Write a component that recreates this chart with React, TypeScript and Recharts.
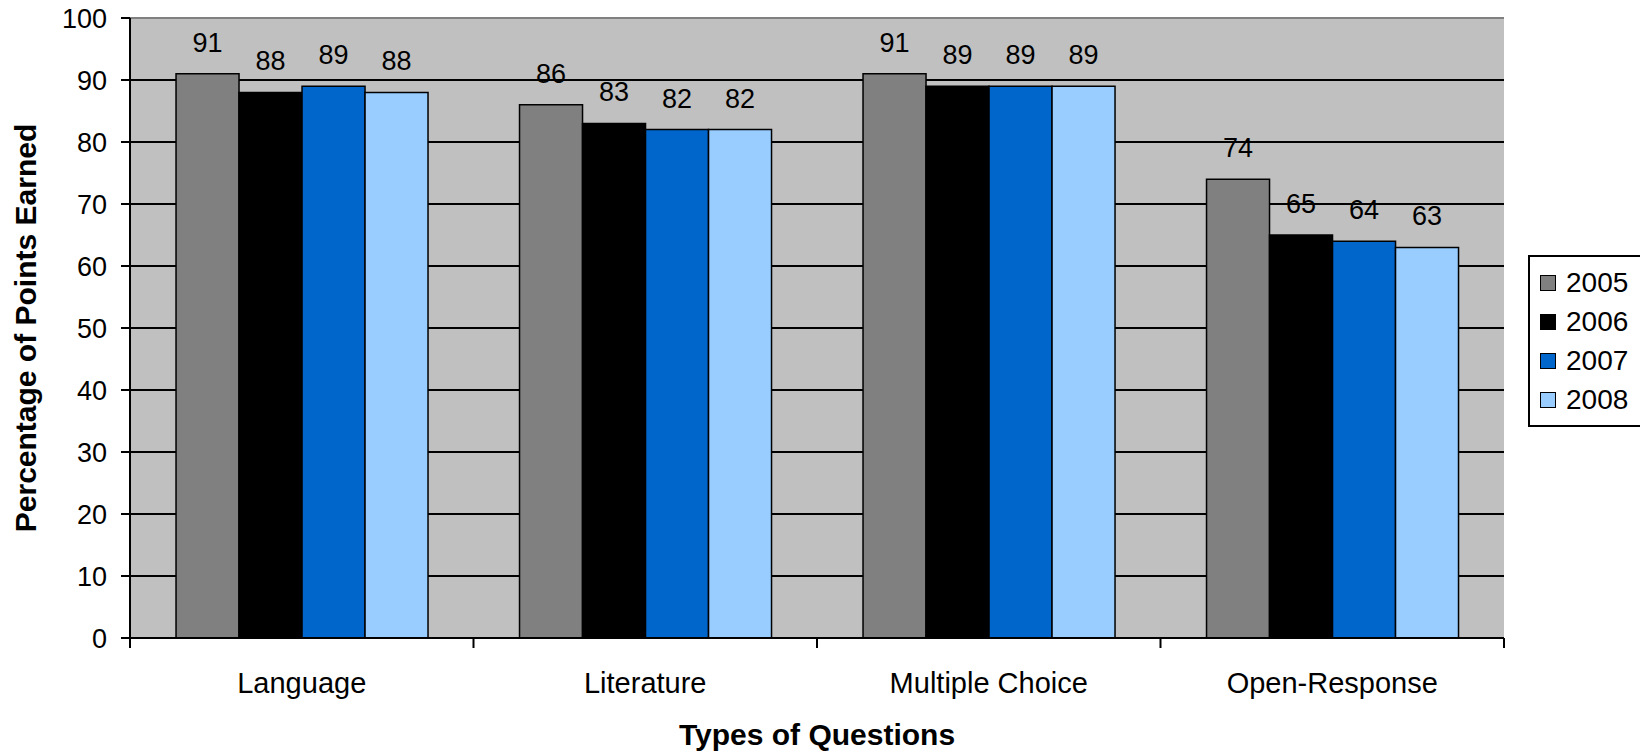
import React from "react"
import {
  BarChart,
  Bar,
  XAxis,
  YAxis,
  CartesianGrid,
  ReferenceLine,
  LabelList,
} from "recharts"

const categories = ["Language", "Literature", "Multiple Choice", "Open-Response"]
const years = ["2005", "2006", "2007", "2008"]
const values2005 = [91, 86, 91, 74]
const values2006 = [88, 83, 89, 65]
const values2007 = [89, 82, 89, 64]
const values2008 = [88, 82, 89, 63]
const yTicks = [0, 10, 20, 30, 40, 50, 60, 70, 80, 90, 100]

const colors = ["#808080", "#000000", "#0066CC", "#99CCFF"]
const font = "'Liberation Sans', Arial, sans-serif"

const seriesValues = [values2005, values2006, values2007, values2008]

const data = categories.map((name, i) => {
  const row: Record<string, number | string> = { name }
  years.forEach((y, j) => {
    row[y] = seriesValues[j][i]
  })
  return row
})

// category name in the middle, tick marks on the band edges (Excel style)
function CategoryTick(props: any) {
  const { x, y, payload, index } = props
  const half = payload?.offset ?? 0
  const last = index === categories.length - 1
  return (
    <g>
      <line x1={x - half} y1={y} x2={x - half} y2={y + 10} stroke="#000" strokeWidth={2} />
      {last && <line x1={x + half} y1={y} x2={x + half} y2={y + 10} stroke="#000" strokeWidth={2} />}
      <text x={x} y={y + 55} textAnchor="middle" fontSize={29} fill="#000" fontFamily={font}>
        {payload.value}
      </text>
    </g>
  )
}

function LegendBox() {
  return (
    <div
      style={{
        position: "absolute",
        left: 1528,
        top: 255,
        width: 106,
        border: "2px solid #000",
        background: "#fff",
        padding: "6px 0 6px 10px",
        fontFamily: font,
        fontSize: 28,
      }}
    >
      {years.map((y, i) => (
        <div key={y} style={{ display: "flex", alignItems: "center", height: 39 }}>
          <div
            style={{
              width: 14,
              height: 14,
              background: colors[i],
              border: "1.5px solid #000",
              marginRight: 10,
            }}
          />
          <span>{y}</span>
        </div>
      ))}
    </div>
  )
}

export default function App() {
  return (
    <div style={{ position: "absolute", left: 0, top: 0, width: 1640, height: 754, background: "#fff", fontFamily: font }}>
      <BarChart
        width={1640}
        height={754}
        data={data}
        margin={{ top: 18, right: 136, left: 0, bottom: 0 }}
        barCategoryGap="13.4%"
        barGap={0}
      >
        <CartesianGrid fill="#C0C0C0" vertical={false} stroke="#000" strokeWidth={2} />
        <XAxis
          dataKey="name"
          interval={0}
          tickSize={0}
          tickMargin={0}
          tickLine={{ stroke: "none" }}
          tick={<CategoryTick />}
          height={116}
          axisLine={{ stroke: "#000", strokeWidth: 2 }}
          label={{
            value: "Types of Questions",
            position: "insideBottom",
            offset: 9,
            style: { fontWeight: "bold", fontSize: 30, fill: "#000", fontFamily: font },
          }}
        />
        <YAxis
          domain={[0, 100]}
          ticks={yTicks}
          interval={0}
          width={130}
          tickSize={9}
          tickMargin={14}
          tick={{ fontSize: 27, fill: "#000", fontFamily: font }}
          tickLine={{ stroke: "#000", strokeWidth: 2 }}
          axisLine={{ stroke: "#000", strokeWidth: 2 }}
          label={{
            value: "Percentage of Points Earned",
            angle: -90,
            position: "insideLeft",
            offset: 25,
            style: { fontWeight: "bold", fontSize: 30, fill: "#000", fontFamily: font, textAnchor: "middle" },
          }}
        />
        <YAxis
          yAxisId="right"
          orientation="right"
          domain={[0, 100]}
          width={0}
          tick={false}
          tickLine={false}
          axisLine={{ stroke: "#808080", strokeWidth: 2 }}
        />
        <ReferenceLine y={100} stroke="#808080" strokeWidth={2} />
        {years.map((y, i) => (
          <Bar
            key={y}
            dataKey={y}
            fill={colors[i]}
            stroke="#000"
            strokeWidth={1.5}
            isAnimationActive={false}
          >
            <LabelList dataKey={y} position="top" offset={22} fontSize={27} fill="#000" fontFamily={font} />
          </Bar>
        ))}
      </BarChart>
      <LegendBox />
    </div>
  )
}
